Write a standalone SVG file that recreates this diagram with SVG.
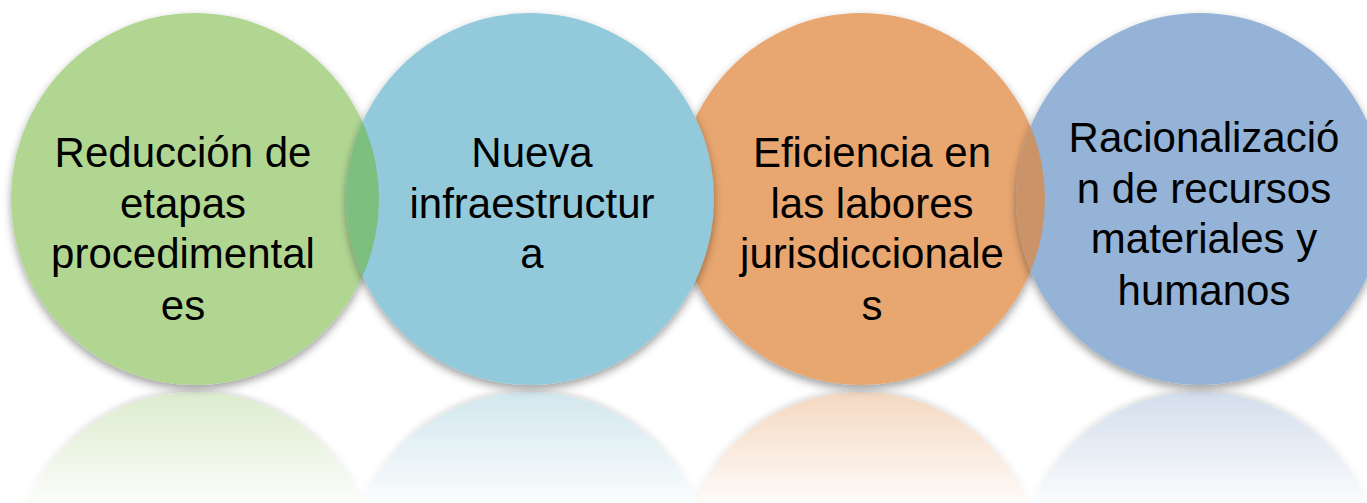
<svg xmlns="http://www.w3.org/2000/svg" width="1367" height="503" viewBox="0 0 1367 503">
<style>
.lbl{font-family:"Liberation Sans",Arial,sans-serif;font-size:42px;fill:#000;text-anchor:middle}
.node{filter:url(#sh)}
.refl{filter:url(#rsh)}
</style>
<defs>
<filter id="sh" x="-10%" y="-10%" width="120%" height="125%">
<feDropShadow dx="0" dy="4" stdDeviation="4" flood-color="#000" flood-opacity="0.38"/>
</filter>
<filter id="rsh" x="-10%" y="-10%" width="120%" height="125%">
<feDropShadow dx="0" dy="-2" stdDeviation="3" flood-color="#000" flood-opacity="0.18"/>
</filter>
<linearGradient id="rg" gradientUnits="userSpaceOnUse" x1="0" y1="392" x2="0" y2="503">
<stop offset="0" stop-color="#ffffff" stop-opacity="0"/>
<stop offset="1" stop-color="#ffffff" stop-opacity="0.9"/>
</linearGradient>
<clipPath id="cBlue"><ellipse cx="530" cy="199" rx="184" ry="186"/></clipPath>
<clipPath id="cBlue2"><ellipse cx="1200" cy="199" rx="184" ry="186"/></clipPath>
</defs>
<rect width="1367" height="503" fill="#ffffff"/>
<g id="reflections">
<ellipse class="refl" cx="195" cy="578" rx="184" ry="186" fill="#dcecce"/>
<ellipse class="refl" cx="861" cy="578" rx="184" ry="186" fill="#f4d8c1"/>
<ellipse class="refl" cx="1200" cy="578" rx="184" ry="186" fill="#d3deec"/>
<ellipse class="refl" cx="530" cy="578" rx="184" ry="186" fill="#d2e7ee"/>
<rect x="0" y="392" width="1367" height="111" fill="url(#rg)"/>
</g>
<g id="node1">
<ellipse class="node" cx="195" cy="199" rx="184" ry="186" fill="#b1d692"/>
</g>
<g id="node3">
<ellipse class="node" cx="861" cy="199" rx="184" ry="186" fill="#e8a670"/>
</g>
<g id="node4">
<ellipse class="node" cx="1200" cy="199" rx="184" ry="186" fill="#94b3d7"/>
<ellipse cx="861" cy="199" rx="184" ry="186" fill="#cb9468" clip-path="url(#cBlue2)"/>
</g>
<g id="node2">
<ellipse class="node" cx="530" cy="199" rx="184" ry="186" fill="#92cadc"/>
<ellipse cx="195" cy="199" rx="184" ry="186" fill="#7dbf7f" clip-path="url(#cBlue)"/>
</g>
<g id="labels">
<text class="lbl" x="183" y="167">Reducción de</text>
<text class="lbl" x="183" y="218">etapas</text>
<text class="lbl" x="183" y="268">procedimental</text>
<text class="lbl" x="183" y="320">es</text>
<text class="lbl" x="532" y="167">Nueva</text>
<text class="lbl" x="532" y="218">infraestructur</text>
<text class="lbl" x="532" y="268">a</text>
<text class="lbl" x="872" y="167">Eficiencia en</text>
<text class="lbl" x="872" y="218">las labores</text>
<text class="lbl" x="872" y="268">jurisdiccionale</text>
<text class="lbl" x="872" y="320">s</text>
<text class="lbl" x="1204" y="152">Racionalizació</text>
<text class="lbl" x="1204" y="203">n de recursos</text>
<text class="lbl" x="1204" y="253">materiales y</text>
<text class="lbl" x="1204" y="305">humanos</text>
</g>
</svg>
